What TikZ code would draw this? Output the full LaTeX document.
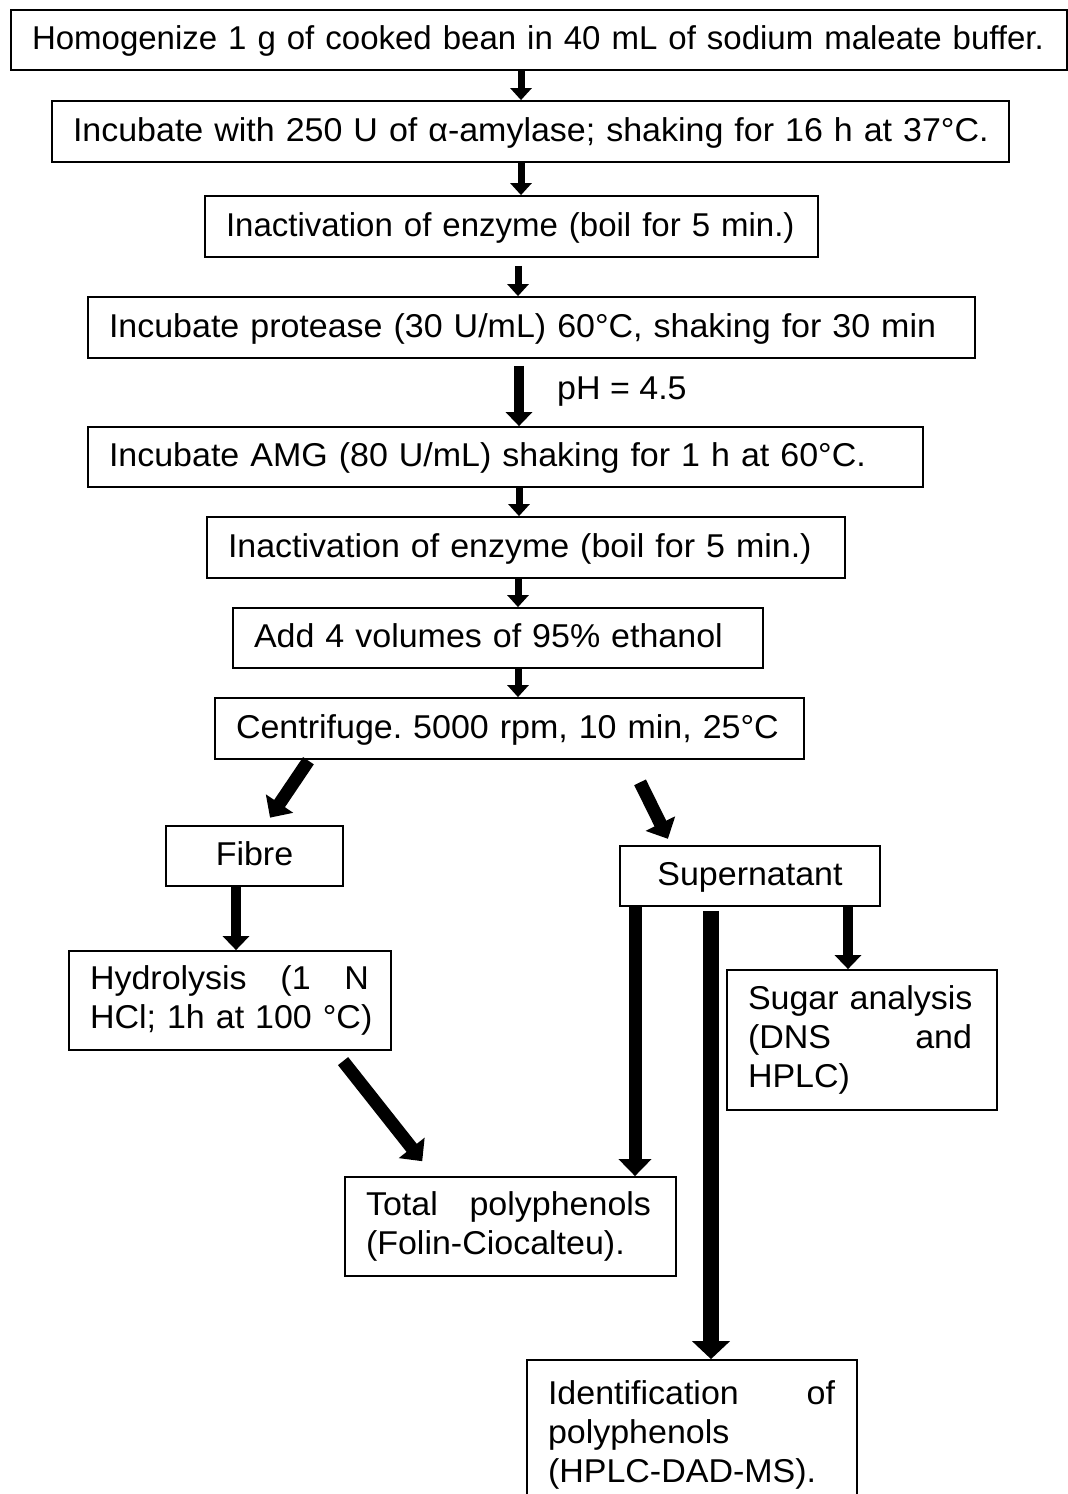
\documentclass[tikz,border=0pt]{standalone}
\usepackage{fontspec}
\setmainfont{Liberation Sans}[FakeStretch=1.03]
\newfontfamily\plainfont{Liberation Sans}
\usetikzlibrary{arrows.meta}
\frenchspacing
\begin{document}
\begin{tikzpicture}[x=1pt,y=-1pt,
  box/.style={draw, line width=1.8pt, inner xsep=21pt, inner ysep=0pt, align=left,
    font=\fontsize{33}{39}\selectfont\frenchspacing},
  sbox/.style={box, text height=26pt, text depth=7pt},
  cbox/.style={sbox, align=center},
  arrS/.style={line width=7pt, -{Triangle[length=12pt,width=21pt]}},
  arrM/.style={line width=10pt, -{Triangle[length=14pt,width=26pt]}},
  arrL/.style={line width=13pt, -{Triangle[length=17pt,width=32pt]}},
  arrXL/.style={line width=16pt, -{Triangle[length=18pt,width=37pt]}},
  lbl/.style={inner sep=0pt, font=\fontsize{33}{39}\selectfont}
]
\useasboundingbox (0,0) rectangle (1068,1494);

\node[sbox, minimum width=1056pt, minimum height=60pt, text width=1014pt] (b1) at (539,40)
  {\mbox{\plainfont Homogenize 1 g of cooked bean in 40 mL of sodium maleate buffer.}};
\node[sbox, minimum width=957pt, minimum height=61pt, text width=915pt] (b2) at (530.5,131.5)
  {\mbox{Incubate with 250 U of α-amylase; shaking for 16 h at 37°C.}};
\node[sbox, minimum width=613pt, minimum height=61pt, text width=571pt] (b3) at (511.5,226.5)
  {\mbox{\plainfont Inactivation of enzyme (boil for 5 min.)}};
\node[sbox, minimum width=887pt, minimum height=61pt, text width=845pt] (b4) at (531.5,327.5)
  {\mbox{Incubate protease (30 U/mL) 60°C, shaking for 30 min}};
\node[sbox, minimum width=835pt, minimum height=60pt, text width=793pt] (b5) at (505.5,457)
  {\mbox{Incubate AMG (80 U/mL) shaking for 1 h at 60°C.}};
\node[sbox, minimum width=638pt, minimum height=61pt, text width=596pt] (b6) at (526,547.5)
  {\mbox{Inactivation of enzyme (boil for 5 min.)}};
\node[sbox, minimum width=530pt, minimum height=60pt, text width=488pt] (b7) at (498,638)
  {\mbox{Add 4 volumes of 95\% ethanol}};
\node[sbox, minimum width=589pt, minimum height=61pt, text width=547pt] (b8) at (509.5,728.5)
  {\mbox{Centrifuge. 5000 rpm, 10 min, 25°C}};
\node[cbox, minimum width=177pt, minimum height=60pt, text width=135pt] (fibre) at (254.5,856)
  {Fibre};
\node[cbox, minimum width=260pt, minimum height=60pt, text width=218pt] (super) at (750,876)
  {Supernatant};
\node[box, minimum width=322pt, minimum height=99pt, text width=280pt] (hyd) at (230,1000.5)
  {\makebox[279pt][l]{Hydrolysis\hfill(1\hfill N}\\\mbox{HCl; 1h at 100 °C)}};
\node[box, minimum width=270pt, minimum height=140pt, text width=228pt] (sugar) at (862,1040)
  {\mbox{Sugar analysis}\\\makebox[224pt][l]{(DNS\hfill and}\\HPLC)};
\node[box, minimum width=331pt, minimum height=99pt, text width=289pt] (total) at (510.5,1226.5)
  {\makebox[285pt][l]{Total\hfill polyphenols}\\\mbox{(Folin-Ciocalteu).}};
\node[box, minimum width=330pt, minimum height=150pt, text width=288pt] (ident) at (692,1435)
  {\makebox[287pt][l]{Identification\hfill of}\\polyphenols\\\mbox{(HPLC-DAD-MS).}};

\node[lbl, anchor=west] (ph) at (557,392) {pH = 4.5};

\draw[arrS] (b1.south -| 521,0) -- (b2.north -| 521,0);
\draw[arrS] (b2.south -| 521,0) -- (b3.north -| 521,0);
\draw[arrS, shorten <=8pt] (b3.south -| 518,0) -- (b4.north -| 518,0);
\draw[arrM, shorten <=7pt] (b4.south -| 519,0) -- (b5.north -| 519,0);
\draw[arrS] (b5.south -| 519,0) -- (b6.north -| 519,0);
\draw[arrS] (b6.south -| 518,0) -- (b7.north -| 518,0);
\draw[arrS] (b7.south -| 518,0) -- (b8.north -| 518,0);
\draw[arrL, shorten <=1pt, shorten >=9pt] (b8.south -| 309,0) -- (fibre.north -| 265,0);
\draw[arrL, shorten <=25pt, shorten >=7pt] (b8.south -| 629,0) -- (super.north -| 671,0);
\draw[arrM] (fibre.south -| 236,0) -- (hyd.north -| 236,0);
\draw[arrM] (super.south -| 848,0) -- (sugar.north -| 848,0);
\draw[arrL] (super.south -| 635,0) -- (total.north -| 635,0);
\draw[arrXL, shorten <=4pt] (super.south -| 711,0) -- (ident.north -| 711,0);
\draw[arrL, shorten <=13pt, shorten >=19pt] (hyd.south -| 335,0) -- (total.north -| 434,0);
\end{tikzpicture}
\end{document}
